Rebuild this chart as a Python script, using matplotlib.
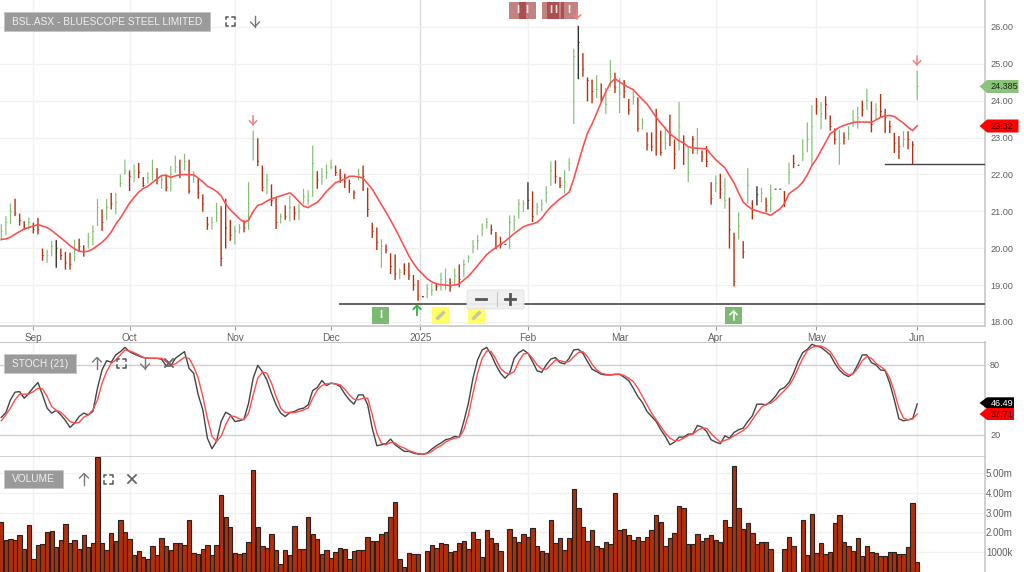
import matplotlib
matplotlib.use("Agg")
import matplotlib.pyplot as plt
from matplotlib.patches import Rectangle, Polygon, FancyBboxPatch
from matplotlib.collections import LineCollection
import numpy as np

plt.rcParams['font.family'] = ['Liberation Sans', 'DejaVu Sans']

highs = [20.65,20.87,21.21,21.34,20.94,20.73,20.83,20.69,20.82,19.99,
19.96,20.20,20.22,19.99,19.90,19.88,20.23,20.26,20.08,20.41,
20.62,21.33,21.05,21.33,21.50,21.50,22.00,22.40,22.11,22.27,
22.31,21.93,22.06,22.40,22.17,21.99,21.99,22.23,22.51,22.40,
22.56,22.40,22.08,21.88,21.46,20.85,20.85,21.23,21.14,21.34,
20.77,20.61,20.65,20.76,21.79,23.19,22.98,22.24,22.02,21.73,
21.39,20.94,21.16,21.43,21.14,21.21,21.61,21.57,22.78,22.09,
22.17,22.27,22.40,22.24,22.15,22.02,21.86,21.57,22.15,22.24,
21.64,20.69,20.56,20.24,20.10,19.86,19.83,19.45,19.59,19.61,
19.27,19.14,18.70,19.03,19.05,19.06,19.34,19.45,19.18,19.45,
19.56,19.69,19.81,20.22,20.35,20.67,20.82,20.64,20.44,20.31,
20.11,20.89,20.89,21.33,21.30,21.79,21.54,21.23,21.32,21.68,
22.35,22.38,21.93,22.11,22.44,25.40,26.03,25.29,24.63,24.57,
24.69,24.47,24.34,25.10,24.76,24.61,24.56,24.05,24.29,24.09,
23.53,23.14,23.14,23.78,23.19,23.30,23.62,22.95,23.97,23.06,
22.74,23.04,23.26,22.65,22.77,21.79,21.97,22.02,21.90,21.37,
20.42,20.97,20.19,22.17,21.30,21.68,21.64,21.37,21.72,21.61,
21.61,21.55,22.32,22.53,22.26,22.95,23.41,23.87,24.07,23.96,
24.12,23.60,23.25,23.21,23.14,23.31,23.75,23.84,24.00,24.32,
23.98,23.93,24.18,23.78,23.46,23.13,23.04,23.17,23.17,22.90,24.81]

lows = [20.20,20.35,20.65,20.87,20.61,20.49,20.50,20.40,20.37,19.66,
19.60,19.78,19.47,19.68,19.42,19.42,19.65,19.90,19.77,19.99,
20.08,20.60,20.47,20.76,21.05,20.92,21.66,21.99,21.55,21.79,
21.90,21.66,21.75,21.84,21.73,21.61,21.54,21.54,22.05,21.90,
22.11,21.48,21.77,21.34,20.99,20.50,20.50,20.71,19.51,19.99,
20.20,20.10,20.40,20.43,20.50,22.38,22.23,21.54,21.46,21.14,
20.52,20.67,20.77,20.73,20.76,20.76,21.19,21.19,21.39,21.61,
21.72,21.88,22.14,21.96,21.77,21.63,21.50,21.33,21.84,21.55,
20.85,20.28,19.95,19.47,19.86,19.30,19.14,19.16,19.27,19.14,
18.85,18.57,18.67,18.64,18.71,18.85,18.85,18.87,18.82,19.00,
18.94,19.21,19.61,19.86,19.96,20.32,20.53,20.37,19.97,19.99,
20.09,19.98,20.47,20.80,20.98,21.05,20.71,20.89,21.01,21.23,
21.69,21.75,21.63,21.48,22.09,23.37,24.58,24.65,23.98,23.93,
24.07,23.97,23.64,24.36,24.21,23.66,24.07,23.62,23.89,23.16,
23.21,22.65,22.63,22.51,22.51,22.67,22.77,22.14,22.65,22.26,
21.79,22.56,22.54,22.34,22.20,21.18,21.52,21.34,21.07,19.99,
18.96,20.24,19.72,21.21,20.78,21.16,21.25,20.98,20.98,21.59,
21.59,21.12,21.73,22.17,22.24,22.36,22.60,22.24,23.62,23.22,
23.49,23.19,22.81,22.26,22.81,22.94,23.28,23.24,23.57,23.75,
23.14,23.50,23.53,23.12,23.12,22.58,22.42,22.74,22.68,22.27,24.02]

closes = [20.45,20.70,21.00,20.95,20.75,20.55,20.70,20.50,20.50,19.80,
19.80,20.05,20.00,19.80,19.60,19.55,19.95,20.05,19.90,20.30,
20.45,21.10,20.70,21.10,21.20,21.25,21.75,22.10,21.95,22.10,
22.05,21.70,21.90,22.00,21.90,21.85,21.65,22.00,22.20,22.00,
22.35,21.55,21.95,21.50,21.20,20.65,20.70,20.95,19.72,20.55,
20.35,20.45,20.55,20.55,20.85,22.95,22.35,21.65,21.85,21.30,
20.70,20.85,20.85,21.10,20.95,21.00,21.40,21.30,22.30,21.85,
21.95,22.05,22.20,22.05,21.90,21.80,21.75,21.50,22.00,21.95,
21.05,20.45,20.15,20.05,19.95,19.50,19.30,19.35,19.40,19.25,
19.00,18.70,18.68,18.90,18.85,18.95,19.15,19.10,18.95,19.25,
19.15,19.55,19.75,20.05,20.20,20.55,20.70,20.50,20.05,20.10,
20.10,20.70,20.75,21.20,21.20,21.30,20.85,21.10,21.20,21.50,
22.10,21.95,21.70,21.80,22.30,25.20,25.58,24.85,24.55,24.25,
24.30,24.10,23.90,24.65,24.35,24.20,24.25,23.75,24.10,23.25,
23.40,22.80,22.75,23.50,22.60,22.85,23.05,22.55,23.30,22.85,
22.05,22.95,22.70,22.50,22.35,21.35,21.75,21.60,21.30,20.50,
19.10,20.60,19.90,21.70,21.05,21.45,21.50,21.15,21.35,21.60,
21.60,21.30,22.05,22.30,22.25,22.55,22.95,23.30,23.85,23.65,
23.90,23.30,22.95,22.85,23.00,23.10,23.45,23.55,23.75,24.00,
23.35,23.75,23.70,23.55,23.30,22.85,22.75,22.95,22.95,22.80,24.385]

bar_colors = ("gggrrrgrrr" "ggkrrrgrrg" "ggrgrgggrg" "rrggrgrggr" "grgrrrggrr"
              "rggrggrrgr" "rgrgrggggr" "gggrrrrrgr" "rrrgrrrgrr" "rrkggrggrg"
              "rggggggrrr" "kggggkrggg" "grrgggkrrr" "grggrgrrgr" "grrrrgrrgr"
              "grgrrrgrgr" "rgrgrkgrgk" "krgrkgggrg" "rrrgrgggrg" "rgrrrrrgrr" "g")

ma = [20.24,20.25,20.30,20.38,20.45,20.52,20.56,20.60,20.64,20.60,
20.56,20.48,20.38,20.28,20.18,20.07,19.98,19.92,19.90,19.92,
19.98,20.07,20.16,20.28,20.44,20.65,20.82,21.02,21.22,21.38,
21.52,21.62,21.68,21.78,21.88,21.97,21.98,21.92,21.96,21.99,
22.00,21.99,21.99,21.90,21.80,21.68,21.62,21.54,21.42,21.20,
21.04,20.92,20.80,20.70,20.76,21.00,21.16,21.20,21.28,21.34,
21.38,21.42,21.46,21.50,21.40,21.26,21.14,21.10,21.18,21.24,
21.38,21.54,21.66,21.78,21.82,21.88,21.95,21.95,21.93,21.90,
21.75,21.60,21.39,21.18,20.98,20.76,20.53,20.29,20.04,19.79,
19.59,19.42,19.30,19.17,19.09,19.03,19.01,19.00,18.99,19.00,
19.03,19.14,19.24,19.38,19.53,19.68,19.83,19.93,20.02,20.10,
20.19,20.29,20.40,20.49,20.58,20.63,20.66,20.70,20.81,20.98,
21.12,21.23,21.34,21.43,21.52,21.88,22.32,22.74,23.12,23.37,
23.66,23.96,24.24,24.48,24.60,24.51,24.43,24.36,24.30,24.16,
24.03,23.91,23.73,23.55,23.39,23.25,23.10,23.01,22.91,22.85,
22.75,22.72,22.71,22.70,22.69,22.54,22.40,22.29,22.18,21.97,
21.77,21.50,21.25,21.14,21.05,21.01,20.97,20.94,20.89,20.98,
21.06,21.21,21.48,21.57,21.66,21.79,21.99,22.24,22.42,22.65,
22.87,23.10,23.19,23.28,23.33,23.37,23.41,23.42,23.42,23.42,
23.41,23.48,23.55,23.59,23.60,23.57,23.48,23.39,23.28,23.19,23.32]

stoch_k = [34.9,39.1,50,56.6,57.1,51.4,55.7,60.6,64.9,54.3,
42.9,38.6,40.9,37.1,32.3,26.3,30,35.7,38.6,37.1,
40,60,75.7,83.7,82.3,88.6,91.4,95.1,91.4,89.4,
87.7,86.3,85.7,85.7,85.7,84.9,79.1,79.1,85.7,88.6,
91.4,77.1,72.9,54.3,41.4,17.1,8,14.3,31.4,39.4,
37.1,31.4,32,33.4,47.1,68.6,79.7,74.3,67.1,55.7,
45.7,38.6,35.7,39.1,40,42,42.9,45.7,58,60.6,
66.6,62.3,64.3,63.7,61.4,55.1,50,46.3,54.3,54.3,
45.7,25.7,10.6,11.4,12.3,16.3,11.4,8.6,5.7,5.7,
4.3,3.4,3.4,4.3,7.7,10.6,12.9,15.7,16.6,18.6,
17.7,31.4,47.1,68.6,84.3,92.9,95.1,88.6,80,72.9,
68.6,72.9,
85.7,90.6,92.9,90,82.9,74.9,73.7,80,85.1,86.3,
82,80.9,85.7,92.9,93.4,90,82.9,76.3,74.3,72,
71.4,71.4,72,72,69.4,66.6,60,52.9,47.7,40,
35.7,31.4,24.3,18.6,11.4,13.7,18,18,20.6,20.6,
28,26.6,22.9,15.7,13.7,12.3,19.1,17.1,22,24.3,
25.7,31.4,36.3,46.3,46.3,45.7,48.6,52.9,58.6,60.6,
64.9,72.9,82.9,90.6,93.4,97.7,96.3,95.1,92,88.6,
81.4,75.7,72,70,72.9,80,88.6,88.6,82,80,
75.7,75.1,64.3,50,33.7,32,32.9,33.7,46.49]

stoch_d = [32,37.1,42.9,50,54.9,54.9,54.9,57.1,60,59.4,
52.9,44.3,40.9,39.4,35.7,31.4,30,30.6,35.1,37.1,
41.4,50,64.3,74.3,81.4,84.3,88.6,92.9,92,90.6,
88.6,86.6,85.7,85.7,85.7,85.7,82.9,80,80.9,83.7,
86.6,85.7,78.6,68.6,52.9,34.3,18.6,14.3,18.6,28.6,
36.3,35.7,33.7,32.9,38.6,54.3,68.6,73.7,72.9,64.3,
52.9,42.9,39.1,39.1,39.1,40,41.4,42.9,51.4,58.6,
62.3,63.7,64.3,63.7,62.9,59.1,54.3,50.6,50,51.4,
51.4,37.1,21.4,12.9,11.4,13.4,12.9,10,8.6,6.3,
5.1,3.7,3.4,3.7,5.7,8.6,10.6,13.7,15.7,17.1,
17.7,24.3,37.1,55.7,72.9,85.7,92,91.4,84.9,77.1,
73.4,72,
74.3,82.9,89.4,90,85.7,80,76.6,76.3,80,84.3,
83.7,82.6,82.9,87.1,90.6,91.4,87.1,80.6,75.7,72.9,
72,71.4,71.7,72,70.9,68.6,65.7,60,52.9,45.7,
38.6,32.9,27.1,21.4,17.1,14.9,15.1,17.1,19.4,20.6,
23.7,25.7,25.7,20.9,17.1,13.7,15.1,16.6,19.1,21.4,
23.7,27.1,32.9,38.6,43.7,46.3,47.1,50,54.3,58,
62.3,68.6,77.1,85.7,92.3,95.1,96.3,96.3,94.3,91.4,
85.7,78.6,74.3,71.4,72.3,77.1,83.7,87.1,85.7,81.4,
78.6,75.7,68.6,57.1,42.9,34.3,32.9,33.7,37.71]

volume_m = [2.50,1.62,1.65,1.60,1.85,1.18,2.36,0.64,1.37,1.43,
2.02,2.06,1.25,1.62,2.41,1.47,1.60,1.15,1.85,1.25,
1.48,5.80,1.48,1.11,1.99,1.57,2.61,2.02,1.65,0.88,
1.05,0.74,0.66,1.30,0.88,1.69,1.32,1.10,1.48,1.48,
1.35,2.61,0.96,0.93,1.15,1.38,0.88,1.35,3.88,2.78,
2.28,0.96,0.93,0.96,1.52,5.14,2.28,1.32,1.23,1.91,
1.10,0.42,1.10,0.88,2.31,1.15,1.15,2.78,1.94,1.65,
0.89,1.10,0.69,1.01,1.21,1.18,0.67,1.05,1.10,1.10,
1.77,1.57,1.57,1.91,2.02,2.75,3.51,0.64,0.25,0.98,
0.89,0.89,0,1.05,1.38,1.21,1.48,1.40,1.01,1.05,
1.47,1.55,1.15,2.02,1.65,0.78,2.11,1.72,1.48,1.05,
0,2.16,
1.77,1.53,1.91,1.79,2.24,1.32,1.05,0.94,2.63,1.47,
1.69,1.10,1.69,4.18,3.25,2.28,1.55,2.11,1.32,1.21,
1.52,1.42,3.98,2.11,2.16,1.85,1.60,1.77,1.55,1.77,
2.11,2.87,2.50,1.32,1.69,1.99,3.34,3.25,1.43,1.43,
1.94,1.55,1.69,1.85,1.60,1.52,2.61,2.28,5.33,3.25,
2.19,2.46,1.99,1.43,1.52,1.52,1.15,0,0,1.15,1.77,1.32,0,
2.61,0.86,2.92,0.98,1.48,0.89,0.99,2.46,2.87,1.52,1.32,
1.06,1.72,0.79,1.32,1.03,0.94,0.79,0.79,1.01,1.01,0.91,0.91,1.26,3.47,0.49]

month_pos = [7, 28, 51, 72, 91.5, 115, 135, 156, 178, 200]
month_labels = ["Sep", "Oct", "Nov", "Dec", "2025", "Feb", "Mar", "Apr", "May", "Jun"]
price_ticks = [18, 19, 20, 21, 22, 23, 24, 25, 26]
volume_ticks = [1, 2, 3, 4, 5]
volume_labels = ["1000k", "2.00m", "3.00m", "4.00m", "5.00m"]
support_level = 18.5
support_start = 74
resistance_level = 22.28
resistance_start = 193

W, H = 1024, 572
fig = plt.figure(figsize=(W / 100, H / 100), dpi=100, facecolor="white")

def add_ax(x0, y0, x1, y1):
    return fig.add_axes([x0 / W, 1 - y1 / H, (x1 - x0) / W, (y1 - y0) / H])

XLIM = (-0.284, 214.8)
GRID = "#f1f1f1"
SPINE = "#c8c8c8"
TICK = "#5f5f5f"

ax = add_ax(0, 0, 985, 326)
ax2 = add_ax(0, 342, 985, 457)
ax3 = add_ax(0, 457, 985, 572)
ax.set_zorder(5)

for a in (ax, ax2, ax3):
    a.set_xlim(*XLIM)
    a.set_facecolor("white")
    a.spines["top"].set_visible(False)
    a.spines["left"].set_visible(False)
    a.spines["right"].set_color(SPINE)
    a.spines["bottom"].set_color(SPINE)
    a.spines["bottom"].set_linewidth(1.2)
    a.spines["right"].set_linewidth(1.2)
    a.yaxis.tick_right()
    a.set_axisbelow(True)
    a.tick_params(axis="y", length=0, pad=3.6, labelsize=6.6, labelcolor=TICK)
    a.set_xticks(month_pos)
    a.grid(axis="x", color=GRID, lw=1)
    a.grid(axis="y", color=GRID, lw=1)

# price panel
ax.set_ylim(17.89, 26.73)
ax.set_yticks(price_ticks)
ax.set_yticklabels([f"{v:.2f}" for v in price_ticks])
ax.set_xticklabels(month_labels)
ax.tick_params(axis="x", length=3, color="#999999", pad=2, labelsize=7.2, labelcolor=TICK)
ax.get_xgridlines()[4].set_color("#dcdcdc")

palette = {"g": "#82bf72", "r": "#b5300f", "k": "#333333"}
widths = {"g": 0.85, "r": 1.0, "k": 1.0}
xs = np.arange(len(highs))
segs, cols, lws, tsegs, tcols = [], [], [], [], []
for i, (h, l, c, k) in enumerate(zip(highs, lows, closes, bar_colors)):
    segs.append([(i, l), (i, h)])
    cols.append(palette[k])
    lws.append(widths[k])
    tsegs.append([(i, c), (i + 0.3, c)])
    tcols.append(palette[k])
lc = LineCollection(segs, colors=cols, linewidths=lws, zorder=3)
lc.set_snap(False)
ax.add_collection(lc)
tc = LineCollection(tsegs, colors=tcols, linewidths=0.6, zorder=3)
tc.set_snap(False)
ax.add_collection(tc)
ax.plot(xs, ma, color="#ff4d4d", lw=1.15, zorder=4, solid_joinstyle="round")
ax.plot([support_start, XLIM[1]], [support_level] * 2, color="#555555", lw=1.3, zorder=4)
ax.plot([resistance_start, XLIM[1]], [resistance_level] * 2, color="#444444", lw=1.0, zorder=4)

# stochastic panel
ax2.set_ylim(0.9, 99.7)
ax2.set_yticks([20, 80])
ax2.set_yticklabels(["20", "80"])
ax2.tick_params(axis="x", length=0, labelbottom=False)
ax2.spines["top"].set_visible(True)
ax2.spines["top"].set_color(SPINE)
ax2.grid(axis="y", color="#cfcfcf", lw=1)
ax2.plot(xs, stoch_k, color="#444444", lw=1.0, zorder=3)
ax2.plot(xs, stoch_d, color="#ff4d4d", lw=1.0, zorder=4)

# volume panel
ax3.set_ylim(0, 5.8)
ax3.set_yticks(volume_ticks)
ax3.set_yticklabels(volume_labels)
ax3.tick_params(axis="x", length=0, labelbottom=False)
ax3.tick_params(axis="y", pad=0.7, labelsize=7)
ax3.spines["bottom"].set_visible(False)
ax3.bar(xs, volume_m, width=0.95, color="#b52e0a", edgecolor="#222222", linewidth=0.8, zorder=3)

# overlay in pixel coordinates for the platform's labels and controls
ov = fig.add_axes([0, 0, 1, 1], zorder=10)
ov.set_xlim(0, W)
ov.set_ylim(H, 0)
ov.axis("off")
ov.patch.set_alpha(0)

def label_box(x0, y0, x1, y1, text):
    ov.add_patch(Rectangle((x0, y0), x1 - x0, y1 - y0, fc="#9a9a9a", ec="#c4c4c4", lw=0.6))
    ov.text((x0 + x1) / 2, (y0 + y1) / 2 + 0.3, text, color="#f0f0f0", fontsize=7.3,
            ha="center", va="center")

def expand_icon(x, y, c="#555555"):
    r, d = 4.5, 2.5
    for sx in (-1, 1):
        for sy in (-1, 1):
            ov.plot([x + sx * r, x + sx * r, x + sx * (r - d)],
                    [y + sy * (r - d), y + sy * r, y + sy * r], color=c, lw=1.1)

def arrow_icon(x, y, direction, c="#777777", s=5.5, lw=1.0):
    d = 1 if direction == "down" else -1
    ov.plot([x, x], [y - d * s, y + d * s], color=c, lw=lw)
    ov.plot([x - s * 0.8, x, x + s * 0.8], [y + d * s * 0.2, y + d * s, y + d * s * 0.2], color=c, lw=lw)

def cross_icon(x, y, c="#666666", s=4):
    ov.plot([x - s, x + s], [y - s, y + s], color=c, lw=1.3)
    ov.plot([x - s, x + s], [y + s, y - s], color=c, lw=1.3)

label_box(4, 12, 210, 31, "BSL.ASX - BLUESCOPE STEEL LIMITED")
expand_icon(230, 21)
arrow_icon(255, 21, "down")

label_box(4, 354, 76, 373, "STOCH (21)")
arrow_icon(97, 363, "up")
expand_icon(121, 363)
arrow_icon(145, 363, "down")
cross_icon(169, 363)

label_box(4, 470, 63, 488, "VOLUME")
arrow_icon(84, 479, "up")
expand_icon(108, 479)
cross_icon(132, 479)

# signal arrows
arrow_icon(253, 120, "down", c="#f47f7f", s=4.5, lw=1.1)
arrow_icon(577, 14, "down", c="#f47f7f", s=4.5, lw=1.1)
arrow_icon(917, 60, "down", c="#f47f7f", s=4.5, lw=1.1)
arrow_icon(417, 310, "up", c="#22bb33", s=4.5, lw=1.3)

# event boxes
for cx in (517.5, 527, 550.5, 555.5, 569):
    ov.add_patch(Rectangle((cx - 8.5, 1.5), 17, 17, fc="#9c2f2f", ec="none", alpha=0.6))
    ov.text(cx, 10, "I", color="white", fontsize=8, fontweight="bold", ha="center", va="center", alpha=0.85)
ov.add_patch(Rectangle((372, 307), 17, 17, fc="#7cba74", ec="none"))
ov.text(380.5, 315.5, "I", color="white", fontsize=8, fontweight="bold", ha="center", va="center")
ov.add_patch(Rectangle((725, 307), 17, 17, fc="#7cba74", ec="none"))
arrow_icon(733.5, 315.5, "up", c="#ffffff", s=4.5, lw=1.1)
for cx in (440.5, 476.5):
    ov.add_patch(Rectangle((cx - 8.5, 307), 17, 17, fc="#ffff66", ec="none"))
    ov.plot([cx - 4, cx + 4], [319.5, 311.5], color="#c4c4b0", lw=2.4, solid_capstyle="butt")

# zoom control
ov.add_patch(FancyBboxPatch((467, 290), 57, 19, boxstyle="round,pad=0,rounding_size=2",
                            fc="#f0f0f0", ec="#e0e0e0", lw=0.6, alpha=0.95))
ov.plot([496.5, 496.5], [292, 306], color="#c8c8c8", lw=0.8)
ov.plot([476, 486], [298.5, 298.5], color="#555555", lw=2)
ov.plot([505, 515], [298.5, 298.5], color="#555555", lw=2)
ov.plot([510, 510], [293.5, 303.5], color="#555555", lw=2)

# value flags
def flag(y, txt, fc, tc, x1=1018.5, hh=6.5):
    ov.add_patch(Polygon([(979.5, y), (987, y - hh), (x1, y - hh), (x1, y + hh), (987, y + hh)],
                         closed=True, fc=fc, ec="none"))
    ov.text(990.5, y + 0.3, txt, color=tc, fontsize=6.6, ha="left", va="center", clip_on=False)

flag(86.5, "24.385", "#8dc27c", "#1a2a14")
flag(126, "23.32", "#ff0000", "#3a0000")
flag(403, "46.49", "#000000", "#ffffff", x1=1014, hh=5.7)
flag(414, "37.71", "#ff0000", "#3a0000", x1=1014, hh=6)

fig.savefig("out.png", dpi=100, facecolor="white")
